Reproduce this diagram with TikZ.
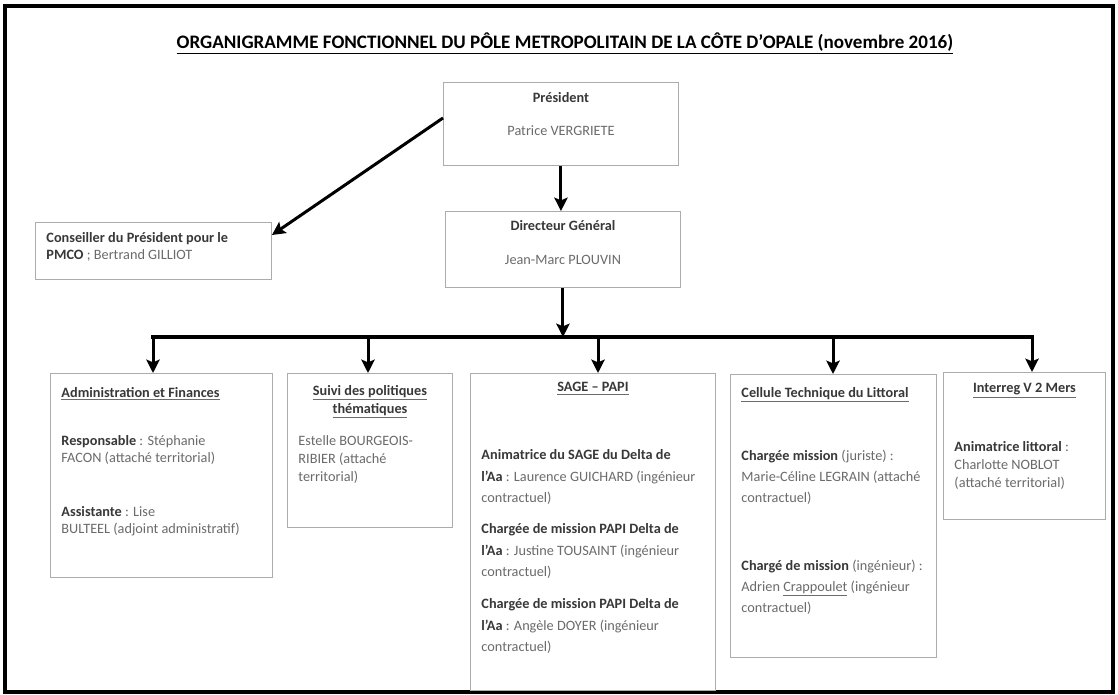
\documentclass[tikz,border=0pt]{standalone}
\usepackage{fontspec}
\setmainfont{Carlito}
\usepackage{xcolor}
\usetikzlibrary{arrows.meta}

\newlength{\pxu}
\setlength{\pxu}{0.75pt}
\definecolor{texte}{gray}{0.42}
\definecolor{fonc}{gray}{0.22}
\newcommand{\fonct}[1]{\textbf{\textcolor{fonc}{#1}}}
\newcommand{\intitule}[1]{\underline{\fonct{#1}}}
\newcommand{\centre}[1]{\makebox[\linewidth]{#1}}
% width, height, baselineskip, top gap (in px), text
\newcommand{\contenu}[5]{\parbox[t][#2\pxu][t]{#1\pxu}{\fontsize{10.7pt}{#3\pxu}\selectfont\raggedright\parskip=0pt\vspace*{#4\pxu}#5}}

\begin{document}
\begin{tikzpicture}[x=0.75pt,y=-0.75pt,>={Stealth[length=10pt,width=10pt,inset=2pt]},
		boite/.style={draw=gray!65, line width=0.7pt, fill=white, anchor=north west, inner xsep=8.25pt, inner ysep=0pt, text=texte},
		fleche/.style={->, line width=2.25pt},
		barre/.style={line width=3pt, line cap=rect}]
		%\draw [help lines] (0,0) grid (1118,695);
		\useasboundingbox (0,0) rectangle (1118,695);
		\draw [line width=3.2pt] (5,6) rectangle (1113,692);
		
		\node [font={\fontsize{14.3}{17}\selectfont\bfseries}] (titre) at (565,43) {\underline{ORGANIGRAMME FONCTIONNEL DU PÔLE METROPOLITAIN DE LA CÔTE D'OPALE (novembre 2016)}};
		
		\node [boite] (pres) at (443,82) {\contenu{213}{83}{17}{10}{\centre{\fonct{Président}}\\[16\pxu]\centre{Patrice VERGRIETE}}};
		\node [boite] (dir) at (445,211) {\contenu{213}{76}{17}{9}{\centre{\fonct{Directeur Général}}\\[17\pxu]\centre{Jean-Marc PLOUVIN}}};
		\node [boite] (cons) at (35,222) {\contenu{214}{57}{17}{10}{\fonct{Conseiller du Président pour le}\\\fonct{PMCO} ; Bertrand GILLIOT}};
		
		\node [boite] (admin) at (50,373) {\contenu{200}{204}{17}{14}{\intitule{Administration et Finances}\\[31\pxu]\fonct{Responsable} : Stéphanie\\FACON (attaché territorial)\\[37\pxu]\fonct{Assistante} : Lise\\BULTEEL (adjoint administratif)}};
		\node [boite] (suivi) at (287,373) {\contenu{143}{154}{18}{12}{\centre{\intitule{Suivi des politiques}}\\\centre{\intitule{thématiques}}\\[14\pxu]Estelle BOURGEOIS-\\RIBIER (attaché\\territorial)}};
		\node [boite] (sage) at (470,373) {\contenu{223}{317}{21.5}{9}{\centre{\intitule{SAGE – PAPI}}\\[46.5\pxu]\fonct{Animatrice du SAGE du Delta de}\\\fonct{l'Aa} : Laurence GUICHARD (ingénieur\\contractuel)\\[9.5\pxu]\fonct{Chargée de mission PAPI Delta de}\\\fonct{l'Aa} : Justine TOUSAINT (ingénieur\\contractuel)\\[10.5\pxu]\fonct{Chargée de mission PAPI Delta de}\\\fonct{l'Aa} : Angèle DOYER (ingénieur\\contractuel)}};
		\node [boite] (cellule) at (730,374) {\contenu{184}{283}{21}{13}{\intitule{Cellule Technique du Littoral}\\[42\pxu]\fonct{Chargée mission} (juriste) :\\Marie-Céline LEGRAIN (attaché\\contractuel)\\[47\pxu]\fonct{Chargé de mission} (ingénieur) :\\Adrien \underline{Crappoulet} (ingénieur\\contractuel)}};
		\node [boite] (interreg) at (943,372) {\contenu{140}{147}{18}{11}{\centre{\intitule{Interreg V 2 Mers}}\\[41\pxu]\fonct{Animatrice littoral} :\\Charlotte NOBLOT\\(attaché territorial)}};
		
		\draw [fleche] (pres.south) -- (pres.south |- dir.north);
		\draw [fleche] ([shift={(0,-6)}]pres.west) -- ([shift={(0,13)}]cons.north east);
		
		\foreach \nom/\xx in {admin/153, suivi/368, sage/598, cellule/833, interreg/1032}
			\coordinate (b\nom) at (\xx,337);
		\draw [barre] (badmin) -- (binterreg);
		\draw [fleche] (dir) -- (dir.south |- badmin);
		\foreach \nom in {admin, suivi, sage, cellule, interreg}
			\draw [fleche] (b\nom) -- (b\nom |- \nom.north);
	\end{tikzpicture}
\end{document}
